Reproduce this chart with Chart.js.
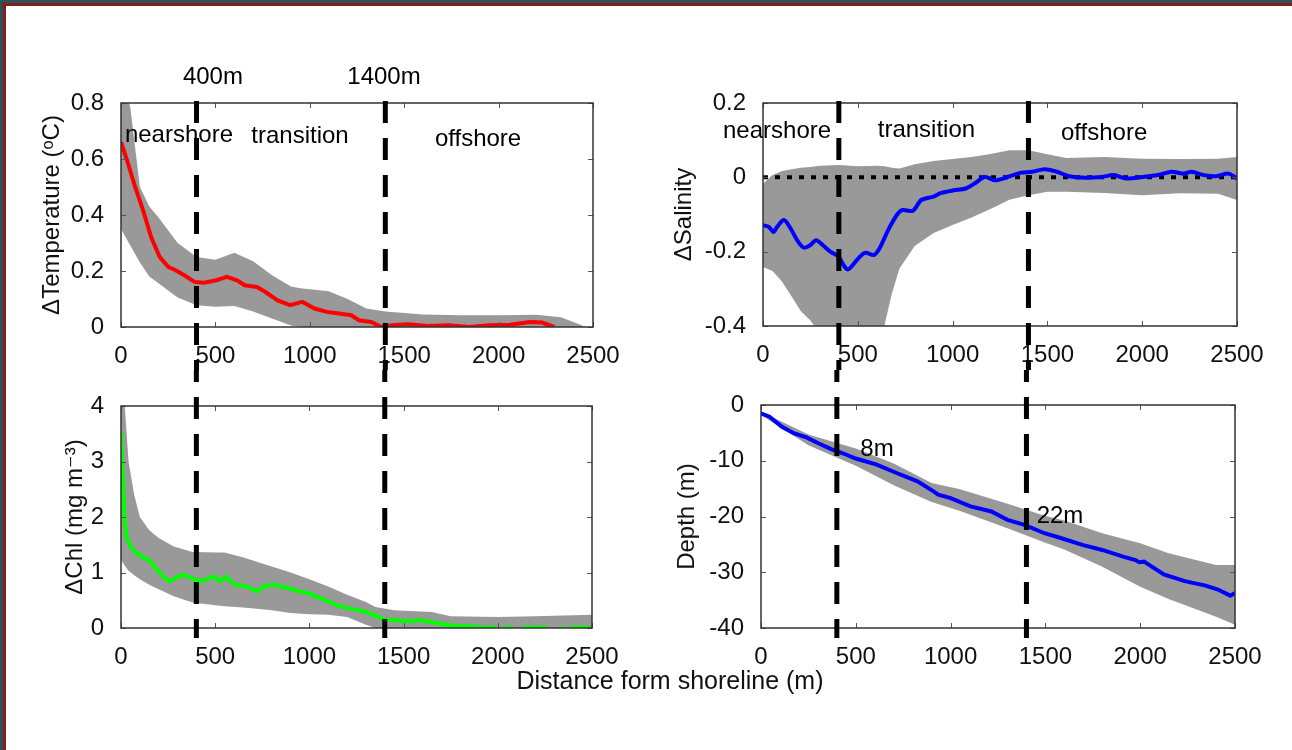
<!DOCTYPE html>
<html>
<head>
<meta charset="utf-8">
<script src="https://cdn.jsdelivr.net/npm/chart.js@4.4.1/dist/chart.umd.min.js"></script>
<style>
  body { margin: 0; background: #fff; }
  #page { position: relative; width: 1292px; height: 750px; overflow: hidden; background: #fff; }
  .edge { position: absolute; left: 0; top: 0; width: 1292px; height: 750px; box-sizing: border-box;
          border-top: 3px solid #2b5258; border-left: 3px solid #2b5258; }
  .edge div { width: 100%; height: 100%; box-sizing: border-box;
              border-top: 3px solid #8b1a1e; border-left: 3px solid #8b1a1e; }
  canvas { position: absolute; }
  #xlabel { position: absolute; left: 470px; top: 666px; width: 400px; text-align: center;
            font: 25px 'Liberation Sans', 'DejaVu Sans', Arial, sans-serif; line-height: 28px; color: #111; }
</style>
</head>
<body>
<div id="page">
  <div class="edge"><div></div></div>
  <canvas id="tempChart" width="640" height="310" style="left:0;top:60px"></canvas>
  <canvas id="salChart" width="652" height="310" style="left:640px;top:60px"></canvas>
  <canvas id="chlChart" width="640" height="330" style="left:0;top:370px"></canvas>
  <canvas id="depthChart" width="652" height="330" style="left:640px;top:370px"></canvas>
  <div id="xlabel">Distance form shoreline (m)</div>
</div>
<script>
// zone boundaries (m from shoreline)
var boundaries = [400, 1400];
var boundaryLabelX = [487, 1393];
var boundaryLabelY = 0.893;

var regionNames = ['nearshore', 'transition', 'offshore'];
var tempRegionX = [307, 948, 1891];
var tempRegionY = [0.686, 0.681, 0.671];
var salRegionX = [74, 862, 1799];
var salRegionY = [0.125, 0.127, 0.119];

var depthNotes = ['8m', '22m'];
var depthNoteX = [612, 1577];
var depthNoteY = [-7.9, -19.9];

// temperature anomaly
var tempDist = [0, 30, 75, 120, 160, 205, 250, 290, 335, 390, 440, 505, 560, 615, 655, 720, 765, 830, 895, 960,
    1025, 1090, 1155, 1220, 1260, 1325, 1380, 1435, 1520, 1625, 1735, 1845, 1950, 2060, 2165, 2230, 2295];
var tempMean = [0.66, 0.60, 0.50, 0.41, 0.32, 0.25, 0.215, 0.203, 0.185, 0.161, 0.158, 0.167, 0.179, 0.167, 0.149, 0.143, 0.125, 0.095, 0.078, 0.09,
    0.066, 0.054, 0.048, 0.042, 0.024, 0.018, 0.0, 0.006, 0.01, 0.004, 0.006, 0.0, 0.006, 0.008, 0.018, 0.016, 0.0];
var tempBandDist = [0, 50, 100, 150, 200, 300, 400, 500, 600, 700, 800, 900, 950, 1000, 1100, 1200, 1300, 1400, 1600, 1800, 2000, 2200, 2330, 2420, 2460];
var tempUpper = [0.95, 0.78, 0.50, 0.43, 0.39, 0.30, 0.25, 0.24, 0.265, 0.235, 0.185, 0.145, 0.138, 0.135, 0.128, 0.10, 0.066, 0.055, 0.045, 0.042, 0.042, 0.044, 0.035, 0.012, 0];
var tempLower = [0.35, 0.29, 0.23, 0.18, 0.155, 0.105, 0.078, 0.072, 0.075, 0.055, 0.03, 0.005, 0, 0, 0, 0, 0, 0, 0, 0, 0, 0, 0, 0, 0];

// salinity anomaly
var salDist = [0, 30, 55, 75, 110, 140, 185, 215, 250, 280, 315, 355, 400, 420, 445, 465, 510, 540, 585, 615,
    660, 705, 735, 790, 835, 900, 940, 1005, 1070, 1115, 1170, 1225, 1290, 1355, 1420, 1485, 1550, 1615, 1700, 1785,
    1850, 1915, 2000, 2090, 2155, 2220, 2260, 2325, 2390, 2455, 2500];
var salMean = [-0.129, -0.133, -0.147, -0.133, -0.115, -0.133, -0.173, -0.189, -0.182, -0.169, -0.182, -0.2, -0.214, -0.232, -0.248, -0.241, -0.214, -0.203, -0.209, -0.191,
    -0.142, -0.102, -0.088, -0.09, -0.061, -0.052, -0.042, -0.035, -0.03, -0.017, 0.001, -0.008, 0.001, 0.012, 0.015, 0.022, 0.015, 0.003, -0.001, 0.001,
    0.006, -0.003, 0.001, 0.007, 0.015, 0.01, 0.015, 0.006, 0.003, 0.01, -0.003];
var salBandDist = [0, 50, 100, 150, 200, 250, 300, 400, 500, 600, 640, 680, 720, 800, 900, 1000, 1100, 1200, 1300, 1400, 1500, 1600, 1800, 2000, 2200, 2400, 2500];
var salUpper = [-0.017, 0.006, 0.017, 0.022, 0.026, 0.028, 0.031, 0.033, 0.030, 0.031, 0.030, 0.026, 0.024, 0.035, 0.044, 0.049, 0.055, 0.063, 0.073, 0.073, 0.062, 0.052, 0.055, 0.05, 0.049, 0.05, 0.055];
var salLower = [-0.241, -0.252, -0.28, -0.32, -0.36, -0.385, -0.42, -0.5, -0.5, -0.46, -0.40, -0.312, -0.245, -0.185, -0.15, -0.128, -0.108, -0.085, -0.06, -0.048, -0.039, -0.039, -0.042, -0.048, -0.043, -0.044, -0.061];
var salReference = [0, 0];

// chlorophyll anomaly (gaps where no data offshore)
var chlDist = [0, 6, 17, 28, 50, 82, 125, 158, 190, 223, 255, 288, 331, 374, 418, 450, 493, 526, 558, 601,
    666, 720, 764, 818, 883, 947, 991, 1034, 1099, 1164, 1229, 1294, 1337, 1402, 1467, 1531, 1596, 1661, 1726, 1791,
    1856, 1905, 1995, 2015, 2035, 2080, 2100, 2130, 2260, 2290, 2330, 2345, 2365, 2380, 2490];
var chlMean = [3.54, 2.97, 2.07, 1.65, 1.47, 1.35, 1.26, 1.2, 1.05, 0.93, 0.84, 0.9, 0.96, 0.9, 0.84, 0.87, 0.93, 0.84, 0.93, 0.78,
    0.75, 0.66, 0.76, 0.78, 0.72, 0.66, 0.63, 0.57, 0.48, 0.39, 0.34, 0.3, 0.24, 0.15, 0.14, 0.12, 0.14, 0.1, 0.06, 0.03,
    0.03, 0.01, 0.01, null, 0.01, 0.01, null, 0.01, 0.01, null, 0.01, 0.01, null, 0.01, 0.01];
var chlBandDist = [0, 20, 40, 70, 100, 150, 200, 280, 380, 500, 550, 650, 800, 900, 1000, 1100, 1200, 1300, 1350, 1450, 1650, 1750, 2000, 2200, 2500];
var chlUpper = [4.3, 4.0, 3.0, 2.4, 2.0, 1.76, 1.62, 1.47, 1.37, 1.36, 1.36, 1.27, 1.11, 1.0, 0.88, 0.75, 0.6, 0.47, 0.38, 0.32, 0.29, 0.21, 0.2, 0.21, 0.24];
var chlLower = [1.23, 1.12, 1.03, 0.95, 0.88, 0.78, 0.7, 0.57, 0.46, 0.41, 0.39, 0.37, 0.32, 0.27, 0.25, 0.24, 0.2, 0.06, 0, 0, 0, 0, 0, 0, 0];

// bottom depth
var depthDist = [0, 45, 110, 175, 240, 305, 370, 435, 500, 610, 715, 825, 910, 935, 1000, 1105, 1215, 1300, 1390, 1495,
    1585, 1695, 1800, 1910, 1975, 1995, 2020, 2125, 2235, 2345, 2410, 2475, 2500];
var depthMean = [-1.5, -2.1, -3.9, -5.1, -5.8, -6.9, -7.9, -8.7, -9.6, -10.7, -12.2, -13.7, -15.5, -16.1, -16.7, -18.2, -19.1, -20.6, -21.5, -23.0,
    -23.9, -25.1, -26.0, -27.2, -27.8, -28.2, -28.1, -30.4, -31.6, -32.4, -33.1, -34.2, -33.7];
var depthBandDist = [0, 250, 500, 700, 900, 1050, 1300, 1500, 1600, 1800, 2000, 2150, 2400, 2500];
var depthUpper = [-1.2, -5.3, -7.8, -10.5, -14.0, -15.1, -17.7, -19.9, -20.7, -23.0, -24.8, -26.6, -28.7, -28.7];
var depthLower = [-1.8, -7.2, -10.9, -14.4, -17.4, -19.0, -22.1, -24.7, -25.9, -29.0, -32.6, -34.8, -38.0, -39.4];

var FONT = "'Liberation Sans', 'DejaVu Sans', Arial, sans-serif";
Chart.defaults.font.family = FONT;
Chart.defaults.font.size = 24;
Chart.defaults.color = '#111';
Chart.defaults.animation = false;

var BAND = 'rgb(153,153,153)';
var dashOriginY = null;

function pts(xs, ys) {
    return xs.map(function (x, i) { return { x: x, y: ys[i] }; });
}

// plain tick numbers: no thousands separator, "0" rather than "0.0"
function plainTick(v) {
    return String(Number(v.toFixed(2)));
}

function bandSets(xs, upper, lower) {
    return [
        { data: pts(xs, upper), borderWidth: 0, pointRadius: 0, backgroundColor: BAND, fill: '+1', order: 3 },
        { data: pts(xs, lower), borderWidth: 0, pointRadius: 0, backgroundColor: BAND, fill: false, order: 3 }
    ];
}

function meanSet(xs, ys, color, tension) {
    return { data: pts(xs, ys), borderColor: color, borderWidth: 4, pointRadius: 0, fill: false, tension: tension || 0, order: 1 };
}

// box, inward ticks, zone boundaries and text notes
var zonePlugin = {
    id: 'zones',
    afterDatasetsDraw: function (chart, args, opts) {
        var ctx = chart.ctx, a = chart.chartArea, sx = chart.scales.x, sy = chart.scales.y;
        ctx.save();
        ctx.strokeStyle = '#555';
        ctx.lineWidth = 1;
        sx.ticks.forEach(function (t) {
            var px = Math.round(sx.getPixelForValue(t.value)) + 0.5;
            ctx.beginPath();
            ctx.moveTo(px, a.bottom); ctx.lineTo(px, a.bottom - 5);
            ctx.moveTo(px, a.top); ctx.lineTo(px, a.top + 5);
            ctx.stroke();
        });
        sy.ticks.forEach(function (t) {
            var py = Math.round(sy.getPixelForValue(t.value)) + 0.5;
            ctx.beginPath();
            ctx.moveTo(a.left, py); ctx.lineTo(a.left + 5, py);
            ctx.moveTo(a.right, py); ctx.lineTo(a.right - 5, py);
            ctx.stroke();
        });
        ctx.strokeStyle = '#333';
        ctx.lineWidth = 1.5;
        ctx.strokeRect(a.left, a.top, a.right - a.left, a.bottom - a.top);

        // dashed zone boundaries run through both rows of panels
        var top = chart.canvas.getBoundingClientRect().top;
        var y0, y1;
        if (opts.upper) {
            y0 = a.top - 2;
            y1 = chart.height;
            if (dashOriginY === null) dashOriginY = top + y0;
            ctx.lineDashOffset = top + y0 - dashOriginY;
        } else {
            y0 = 0;
            y1 = a.bottom + 10;
            ctx.lineDashOffset = top - dashOriginY;
        }
        ctx.setLineDash([22, 15]);
        ctx.lineWidth = 5;
        ctx.strokeStyle = '#000';
        boundaries.forEach(function (b) {
            var px = sx.getPixelForValue(b);
            ctx.beginPath();
            ctx.moveTo(px, y0);
            ctx.lineTo(px, y1);
            ctx.stroke();
        });
        ctx.restore();
    },
    afterDraw: function (chart, args, opts) {
        if (!opts.notes) return;
        var ctx = chart.ctx, sx = chart.scales.x, sy = chart.scales.y;
        ctx.save();
        ctx.font = '24px ' + FONT;
        ctx.fillStyle = '#000';
        ctx.textAlign = 'center';
        ctx.textBaseline = 'middle';
        opts.notes.forEach(function (n) {
            ctx.fillText(n.text, sx.getPixelForValue(n.x), sy.getPixelForValue(n.y));
        });
        ctx.restore();
    }
};

function notes(texts, xs, ys) {
    return texts.map(function (t, i) { return { text: t, x: xs[i], y: Array.isArray(ys) ? ys[i] : ys }; });
}

function makeChart(id, datasets, cfg) {
    return new Chart(document.getElementById(id), {
        type: 'line',
        data: { datasets: datasets },
        plugins: [zonePlugin],
        options: {
            responsive: false,
            layout: { padding: cfg.padding },
            plugins: {
                legend: { display: false },
                tooltip: { enabled: false },
                zones: { upper: cfg.upper, notes: cfg.notes }
            },
            scales: {
                x: {
                    type: 'linear', min: 0, max: 2500,
                    grid: { display: false }, border: { display: false },
                    ticks: { stepSize: 500, padding: 7, maxRotation: 0, autoSkip: false, callback: plainTick },
                    afterFit: function (s) { s.height = 40; }
                },
                y: {
                    type: 'linear', min: cfg.ymin, max: cfg.ymax,
                    grid: { display: false }, border: { display: false },
                    ticks: { stepSize: cfg.ystep, padding: 9, callback: plainTick },
                    title: { display: true, text: cfg.title, padding: { top: 0, bottom: 0 }, font: { size: 24 } },
                    afterFit: function (s) { s.width = cfg.yWidth; }
                }
            }
        }
    });
}

makeChart('tempChart',
    bandSets(tempBandDist, tempUpper, tempLower).concat([meanSet(tempDist, tempMean, 'rgb(255,0,0)')]),
    {
        upper: true, ymin: 0, ymax: 0.8, ystep: 0.2, yWidth: 83,
        title: '\u0394Temperature (\u1D52C)',
        padding: { left: 38, top: 43, right: 47, bottom: 3 },
        notes: notes(regionNames, tempRegionX, tempRegionY)
            .concat(notes(boundaries.map(function (b) { return b + 'm'; }), boundaryLabelX, boundaryLabelY))
    });

makeChart('salChart',
    bandSets(salBandDist, salUpper, salLower).concat([
        { data: pts([0, 2500], salReference), borderColor: '#000', borderWidth: 4, borderDash: [5, 7], pointRadius: 0, fill: false, order: 2 },
        meanSet(salDist, salMean, 'rgb(0,0,255)', 0.3)
    ]),
    {
        upper: true, ymin: -0.4, ymax: 0.2, ystep: 0.2, yWidth: 93,
        title: '\u0394Salinity',
        padding: { left: 30, top: 43, right: 55, bottom: 4 },
        notes: notes(regionNames, salRegionX, salRegionY)
    });

makeChart('chlChart',
    bandSets(chlBandDist, chlUpper, chlLower).concat([meanSet(chlDist, chlMean, 'rgb(0,255,0)')]),
    {
        upper: false, ymin: 0, ymax: 4, ystep: 1, yWidth: 60,
        title: '\u0394Chl (mg m\u207B\u00B3)',
        padding: { left: 61, top: 36, right: 48, bottom: 32 }
    });

makeChart('depthChart',
    bandSets(depthBandDist, depthUpper, depthLower).concat([meanSet(depthDist, depthMean, 'rgb(0,0,255)')]),
    {
        upper: false, ymin: -40, ymax: 0, ystep: 10, yWidth: 88,
        title: 'Depth (m)',
        padding: { left: 33, top: 35, right: 57, bottom: 32 },
        notes: notes(depthNotes, depthNoteX, depthNoteY)
    });
</script>
</body>
</html>
